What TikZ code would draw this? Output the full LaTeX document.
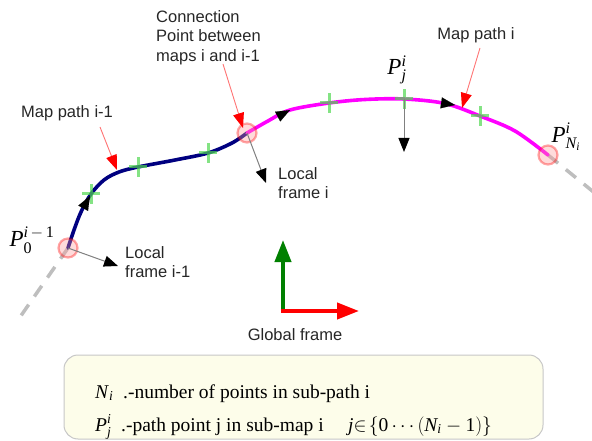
\RequirePackage{fix-cm}
\documentclass[tikz,border=0pt]{standalone}
\usepackage{amsmath}
\usepackage{fontspec}
\setmainfont{Liberation Serif}
\newfontfamily\lsans{Liberation Sans}
\usetikzlibrary{arrows.meta}
\definecolor{navyblue}{RGB}{0,0,128}
\definecolor{magent}{RGB}{255,0,255}
\definecolor{crossgreen}{RGB}{80,215,80}
\definecolor{boxfill}{RGB}{253,253,234}
\definecolor{dashgray}{RGB}{190,190,190}
\definecolor{gfgreen}{RGB}{0,128,0}
\newcommand{\itx}[1]{\text{\itshape #1}}
\newcommand{\rmx}[1]{\text{\upshape #1}}
\begin{document}
\begin{tikzpicture}[x=1pt,y=-1pt,
  lbl/.style={font=\lsans\fontsize{16.5}{19.5}\selectfont, text=black!85, inner sep=0pt},
  mathlbl/.style={font=\fontsize{23}{26}\selectfont, inner sep=0pt},
  legtext/.style={font=\fontsize{19.5}{22}\selectfont, inner sep=0pt},
  bluepath/.style={navyblue, line width=3.6pt, line cap=round},
  magpath/.style={magent, line width=3.6pt, line cap=round},
  dashline/.style={dashgray, line width=3.5pt, dash pattern=on 13pt off 10pt},
  marker/.style={circle, minimum size=19pt, inner sep=0pt, draw=red, draw opacity=0.35, line width=2.2pt, fill=red!40, fill opacity=0.35},
  pathhead/.style={black, line width=0.1pt, -{Triangle[length=14pt,width=11pt]}},
  frarrow/.style={black!50, line width=1pt, -{Triangle[length=14pt,width=11pt,color=black]}},
  redarrow/.style={red!55, line width=0.9pt, -{Triangle[length=15pt,width=11pt,color=red]}},
  gfarrow/.style={line width=4pt, -{Triangle[length=22pt,width=16pt]}},
  gcross/.pic={\draw[crossgreen, line width=3pt, opacity=0.7] (-9pt,0) -- (9pt,0) (0,-10pt) -- (0,10pt);}
]
\path[use as bounding box] (0,0) rectangle (592,441);

% key coordinates
\coordinate (p0) at (68,248);
\coordinate (pc) at (247,133);
\coordinate (pn) at (548,155);
\coordinate (dl) at (18,320);
\coordinate (dr) at (596,194);
\coordinate (c1) at (91,194);
\coordinate (c2) at (138,167);
\coordinate (c3) at (208,153);
\coordinate (c4) at (329,103);
\coordinate (c5) at (404,99);
\coordinate (c6) at (480,116);

% dashed continuation
\draw[dashline] (p0) -- (dl);
\draw[dashline] (pn) -- (dr);

% paths
\draw[bluepath] plot[smooth, tension=0.55] coordinates {(68,248) (74,230) (81,212) (91,194) (104,180) (119,172) (138,167) (175,160) (208,153) (232,143) (247,133)};
\draw[magpath] plot[smooth, tension=0.55] coordinates {(247,133) (268,121) (290,110) (329,103) (365,99.5) (404,99) (445,103.5) (480,116) (515,131) (548,155)};

% path points
\pic at (c1) {gcross};
\pic at (c2) {gcross};
\pic at (c3) {gcross};
\pic at (c4) {gcross};
\pic at (c5) {gcross};
\pic at (c6) {gcross};

% direction arrowheads
\coordinate (b1) at (83.2,208.2); \coordinate (t1) at (90,196);
\coordinate (b2) at (277.7,116.6); \coordinate (t2) at (290,110);
\coordinate (b3) at (441.2,102.9); \coordinate (t3) at (455,105);
\draw[pathhead] (b1) -- (t1);
\draw[pathhead] (b2) -- (t2);
\draw[pathhead] (b3) -- (t3);

% connection markers
\node[marker] (m0) at (p0) {};
\node[marker] (mc) at (pc) {};
\node[marker] (mn) at (pn) {};

% local frames
\coordinate (lt1) at (118,266);
\coordinate (lt2) at (266,183);
\coordinate (lt3) at (404,152);
\draw[frarrow] (p0) -- (lt1);
\draw[frarrow] (pc) -- (lt2);
\draw[frarrow] (c5) -- (lt3);

% labels
\node[lbl] (mp1) at (67,113) {Map path i-1};
\node[lbl] (mpi) at (476,35) {Map path i};
\node[lbl, align=left, anchor=north west] (conn) at (156,10) {Connection\\Point between\\maps i and i-1};
\node[lbl, align=left, anchor=west] (lf1) at (125,262) {Local\\frame i-1};
\node[lbl, align=left, anchor=west] (lfi) at (278,183) {Local\\frame i};

% red annotation arrows
\coordinate (r1s) at (100,127); \coordinate (r1e) at (117,170);
\coordinate (r2s) at (223,64);  \coordinate (r2e) at (243,128);
\coordinate (r3s) at (480,48);  \coordinate (r3e) at (462,108);
\draw[redarrow] (r1s) -- (r1e);
\draw[redarrow] (r2s) -- (r2e);
\draw[redarrow] (r3s) -- (r3e);

% math labels
\node[mathlbl] (lp0) at (32,240) {\textit{P}$^{\itx{i}\,-\,\rmx{1}}_{\rmx{0}}$};
\node[mathlbl] (lpj) at (397,70) {\textit{P}$^{\itx{i}}_{\itx{j}}$};
\node[mathlbl] (lpn) at (566,137) {\textit{P}$^{\itx{i}}_{\itx{N}_{\itx{i}}}$};

% global frame
\coordinate (go) at (283,311);
\coordinate (gy) at (283,240);
\coordinate (gx) at (359,311);
\draw[gfarrow, gfgreen] (go) -- (gy);
\draw[gfarrow, red] ([xshift=-2pt]go) -- (gx);
\node[lbl] (gf) at (295,335) {Global frame};

% legend
\node[draw=black!22, fill=boxfill, line width=1pt, rounded corners=14pt, minimum width=479pt, minimum height=84pt] (legend) at (303.5,397) {};
\node[legtext, anchor=base west] (l1) at (95,398) {\textit{N}$_{\itx{i}}$\ \ .-number of points in sub-path i};
\node[legtext, anchor=base west] (l2) at (95,431) {\textit{P}$^{\itx{i}}_{\itx{j}}$\ \ .-path point j in sub-map i};
\node[legtext, anchor=base west] (l3) at (348,431) {\textit{j}$\in\!\{\rmx{0}\cdots(\textit{N}_{\itx{i}}-\rmx{1})\}$};
\end{tikzpicture}
\end{document}
